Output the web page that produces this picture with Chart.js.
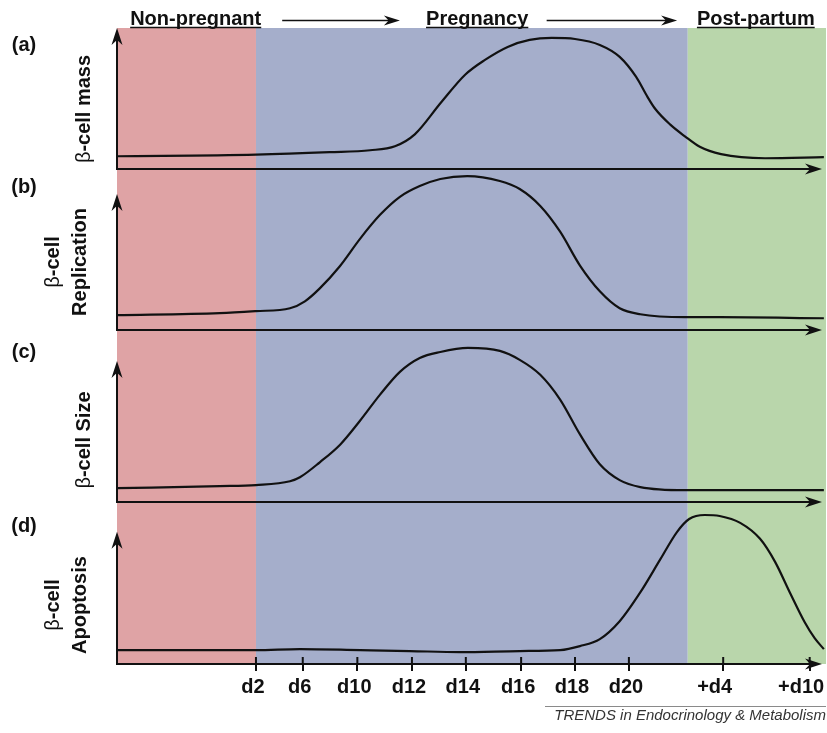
<!DOCTYPE html>
<html lang="en">
<head>
<meta charset="UTF-8">
<title>Beta-cell adaptation in pregnancy</title>
<style>
  body { margin: 0; background: #fff; }
  canvas { display: block; }
</style>
</head>
<body>
<canvas id="chart" width="827" height="733"></canvas>
<script src="https://cdn.jsdelivr.net/npm/chart.js"></script>
<script>
// timeline runs 0..100 (schematic, not linear in days)
const tickPos = [19.6, 26.2, 33.9, 41.6, 49.2, 57.0, 64.6, 72.2, 85.5, 97.7];
const tickLabels = ['d2', 'd6', 'd10', 'd12', 'd14', 'd16', 'd18', 'd20', '+d4', '+d10'];

const phaseNames = ['Non-pregnant', 'Pregnancy', 'Post-partum'];
const phaseEdges = [0, 19.6, 80.5, 100];
const phaseColors = ['#dfa3a5', '#a5aecb', '#b9d6ab'];

// relative level, peak = 100
const massX = [0, 19.6, 30.0, 35.7, 39.2, 42.0, 45.7, 49.1, 51.9, 55.1, 58.2, 61.3, 64.6, 68.1, 70.9, 73.2, 74.8, 75.9, 78.0, 80.1, 82.2, 85.2, 91.4, 99.7];
const massY = [9.8, 11.0, 12.9, 14.4, 17.4, 26.5, 50.8, 72.0, 83.3, 93.2, 98.5, 100, 99.2, 94.7, 85.6, 70.5, 55.3, 46.0, 34.1, 25.0, 17.0, 11.4, 8.3, 9.1];

const replX = [0, 14.5, 19.6, 24.4, 26.5, 28.6, 31.4, 34.3, 37.1, 39.9, 42.7, 45.6, 49.4, 54.0, 56.8, 59.7, 62.5, 65.3, 68.1, 70.9, 73.8, 80.1, 85.0, 99.7];
const replY = [9.7, 11.0, 12.3, 14.2, 18.7, 27.1, 41.3, 59.4, 74.8, 86.5, 93.5, 98.1, 100, 96.8, 91.6, 80.6, 63.9, 41.9, 25.2, 14.2, 10.3, 8.4, 8.4, 7.7];

const sizeX = [0, 14.5, 19.6, 24.4, 25.8, 28.6, 31.5, 34.3, 37.1, 39.9, 42.7, 45.6, 49.5, 54.0, 56.8, 59.7, 62.5, 65.3, 68.1, 70.9, 73.8, 80.1, 85.0, 99.7];
const sizeY = [9.0, 10.3, 11.0, 13.5, 16.1, 25.8, 37.4, 52.9, 69.7, 84.5, 93.5, 97.4, 100, 98.1, 92.3, 82.6, 66.5, 43.9, 24.5, 14.2, 9.7, 7.7, 7.7, 7.7];

const apopX = [0, 19.6, 25.8, 34.3, 41.3, 48.4, 56.8, 62.5, 65.3, 68.1, 70.9, 73.8, 76.6, 79.0, 80.7, 82.9, 85.0, 87.9, 90.7, 92.8, 94.9, 97.0, 98.4, 99.7];
const apopY = [9.3, 9.3, 10.0, 9.3, 8.7, 8.0, 8.7, 9.3, 12.0, 16.7, 28.7, 48.0, 70.0, 88.7, 97.3, 100, 99.3, 94.7, 84.0, 68.7, 48.0, 28.0, 17.3, 10.0];

const panelIds = ['yA', 'yB', 'yC', 'yD'];
const panelLetters = ['(a)', '(b)', '(c)', '(d)'];
const panelTitles = [['β-cell mass'], ['β-cell', 'Replication'], ['β-cell Size'], ['β-cell', 'Apoptosis']];
const series = [[massX, massY], [replX, replY], [sizeX, sizeY], [apopX, apopY]];

const FONT = '"Liberation Sans", Arial, sans-serif';
const INK = '#111';

function stealth(ctx, x, y, dir, len, half) {
  ctx.beginPath();
  if (dir === 'up') {
    ctx.moveTo(x, y);
    ctx.lineTo(x + half, y + len);
    ctx.lineTo(x, y + len * 0.7);
    ctx.lineTo(x - half, y + len);
  } else {
    ctx.moveTo(x, y);
    ctx.lineTo(x - len, y - half);
    ctx.lineTo(x - len * 0.7, y);
    ctx.lineTo(x - len, y + half);
  }
  ctx.closePath();
  ctx.fill();
}

const bands = {
  id: 'bands',
  beforeDatasetsDraw(chart) {
    const {ctx, chartArea: a, scales: {x}} = chart;
    ctx.save();
    phaseColors.forEach((c, i) => {
      const x0 = x.getPixelForValue(phaseEdges[i]);
      const x1 = x.getPixelForValue(phaseEdges[i + 1]);
      ctx.fillStyle = c;
      ctx.fillRect(x0, a.top, x1 - x0, a.bottom - a.top);
    });
    ctx.restore();
  }
};

const axesArrows = {
  id: 'axesArrows',
  afterDatasetsDraw(chart, args, opts) {
    const {ctx, chartArea: a, scales} = chart;
    const tipX = a.right - 4;
    ctx.save();
    ctx.strokeStyle = INK;
    ctx.fillStyle = INK;
    ctx.lineWidth = 2;
    panelIds.forEach((id, i) => {
      const s = scales[id];
      const y0 = s.getPixelForValue(0);
      const yTop = s.getPixelForValue(opts.tops[i]);
      ctx.beginPath();
      ctx.moveTo(a.left, y0);
      ctx.lineTo(tipX - 10, y0);
      ctx.moveTo(a.left, y0 + 1);
      ctx.lineTo(a.left, yTop + 10);
      ctx.stroke();
      stealth(ctx, tipX, y0, 'right', 17, 5.5);
      stealth(ctx, a.left, yTop, 'up', 17, 5.5);
    });
    // tick marks poke above the bottom axis too
    const x = scales.x;
    const yb = scales[panelIds[3]].getPixelForValue(0);
    ctx.beginPath();
    x.ticks.forEach(t => {
      const px = x.getPixelForValue(t.value);
      ctx.moveTo(px, yb - 7);
      ctx.lineTo(px, yb);
    });
    ctx.stroke();
    ctx.restore();
  }
};

const labels = {
  id: 'labels',
  afterDraw(chart, args, opts) {
    const {ctx, scales: {x}} = chart;
    ctx.save();
    ctx.fillStyle = INK;
    ctx.strokeStyle = INK;

    // phase headers
    ctx.font = 'bold 20px ' + FONT;
    ctx.textAlign = 'center';
    ctx.textBaseline = 'alphabetic';
    phaseNames.forEach((name, i) => {
      const cx = x.getPixelForValue(opts.headerAt[i]);
      ctx.fillText(name, cx, 25);
      const w = ctx.measureText(name).width;
      ctx.lineWidth = 1.6;
      ctx.beginPath();
      ctx.moveTo(cx - w / 2, 27.5);
      ctx.lineTo(cx + w / 2, 27.5);
      ctx.stroke();
    });
    opts.headerArrows.forEach(([from, to]) => {
      const x0 = x.getPixelForValue(from), x1 = x.getPixelForValue(to);
      ctx.lineWidth = 1.5;
      ctx.beginPath();
      ctx.moveTo(x0, 20.5);
      ctx.lineTo(x1 - 10, 20.5);
      ctx.stroke();
      stealth(ctx, x1, 20.5, 'right', 16, 5);
    });

    // panel letters
    ctx.textBaseline = 'middle';
    panelLetters.forEach((t, i) => ctx.fillText(t, 24, opts.letterY[i]));

    // rotated y titles, greek beta in plain weight
    panelTitles.forEach((lines, i) => {
      const cy = opts.titleY[i];
      const xs = lines.length === 1 ? [83] : [52, 79];
      lines.forEach((line, j) => {
        ctx.save();
        ctx.translate(xs[j], cy);
        ctx.rotate(-Math.PI / 2);
        ctx.textAlign = 'left';
        ctx.textBaseline = 'middle';
        let head = '', rest = line;
        if (line.startsWith('β')) { head = 'β'; rest = line.slice(1); }
        ctx.font = '20px ' + FONT;
        const wh = ctx.measureText(head).width;
        ctx.font = 'bold 20px ' + FONT;
        const wr = ctx.measureText(rest).width;
        const start = -(wh + wr) / 2;
        ctx.font = '20px ' + FONT;
        ctx.fillText(head, start, 1);
        ctx.font = 'bold 20px ' + FONT;
        ctx.fillText(rest, start + wh, 1);
        ctx.restore();
      });
    });

    // source line
    ctx.strokeStyle = '#8a8a8a';
    ctx.lineWidth = 1;
    ctx.beginPath();
    ctx.moveTo(545, 706.5);
    ctx.lineTo(826, 706.5);
    ctx.stroke();
    ctx.fillStyle = '#333';
    ctx.font = 'italic 15px ' + FONT;
    ctx.textAlign = 'right';
    ctx.textBaseline = 'alphabetic';
    ctx.fillText('TRENDS in Endocrinology & Metabolism', 826, 720);
    ctx.restore();
  }
};

const panelWeights = [142, 162, 173, 163];
const panelMax = [107.6, 104.5, 111.6, 108.7];

const scales = {
  x: {
    type: 'linear',
    position: 'bottom',
    min: 0,
    max: 100,
    border: { display: false },
    grid: { drawOnChartArea: false, drawTicks: true, tickLength: 7, color: INK, lineWidth: 2 },
    afterBuildTicks: (scale) => { scale.ticks = tickPos.map(v => ({ value: v })); },
    afterFit: (scale) => { scale.paddingLeft = 0; scale.paddingRight = 0; },
    ticks: {
      autoSkip: false,
      maxRotation: 0,
      padding: 4,
      labelOffset: -3,
      color: INK,
      font: { family: FONT, size: 20, weight: 'bold' },
      // the post-partum labels sit a little left of their tick, as in the figure
      callback: (value, index) => {
        const t = tickLabels[index];
        return t.startsWith('+') ? t + '\u00a0\u00a0' : t;
      }
    }
  }
};
panelIds.forEach((id, i) => {
  scales[id] = {
    type: 'linear',
    position: 'left',
    stack: 'panels',
    stackWeight: panelWeights[i],
    weight: panelIds.length - i,
    min: 0,
    max: panelMax[i],
    display: false
  };
});

new Chart(document.getElementById('chart').getContext('2d'), {
  type: 'line',
  data: {
    datasets: series.map(([xs, ys], i) => ({
      label: panelTitles[i].join(' '),
      data: xs.map((v, j) => ({ x: v, y: ys[j] })),
      yAxisID: panelIds[i],
      borderColor: INK,
      borderWidth: 2.2,
      pointRadius: 0,
      fill: false,
      cubicInterpolationMode: 'monotone'
    }))
  },
  options: {
    responsive: false,
    animation: false,
    layout: { padding: { left: 117, top: 28, right: 1, bottom: 30 } },
    scales: scales,
    plugins: {
      legend: { display: false },
      tooltip: { enabled: false },
      axesArrows: { tops: [107.6, 88.4, 91.6, 88.7] },
      labels: {
        headerAt: [11.1, 50.8, 90.1],
        headerArrows: [[23.3, 39.9], [60.6, 79.0]],
        letterY: [45, 187, 352, 526],
        titleY: [109, 262, 440, 605]
      }
    }
  },
  plugins: [bands, axesArrows, labels]
});
</script>
</body>
</html>
